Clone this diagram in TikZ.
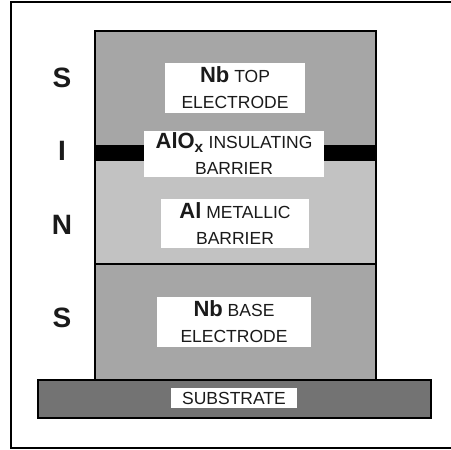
\documentclass[tikz,border=0pt]{standalone}
\usepackage{fontspec}
\setmainfont{Liberation Sans}
\usepackage{xcolor}
\usetikzlibrary{positioning}
\definecolor{nbgray}{HTML}{A6A6A6}
\definecolor{algray}{HTML}{C2C2C2}
\definecolor{subgray}{HTML}{737373}
\definecolor{txtgray}{HTML}{1A1A1A}
\tikzset{
  labelbox/.style={fill=white, inner sep=0pt, align=center, text=txtgray,
    font=\fontsize{17.5}{26}\selectfont},
  sidelabel/.style={text=txtgray, font=\fontsize{28}{28}\selectfont\bfseries},
}
\newcommand{\elem}[1]{{\fontsize{22}{26}\selectfont\bfseries #1}}
\begin{document}
\begin{tikzpicture}[x=1pt, y=-1pt]
\useasboundingbox (0,0) rectangle (451,450);
% outer frame (open to the right)
\draw[line width=2pt] (460,2) -- (11,2) -- (11,447.5) -- (460,447.5);

% layers of the stack
\fill[nbgray] (95,31) rectangle (376,145);
\fill[black] (95,145) rectangle (376,161);
\fill[algray] (95,161) rectangle (376,264);
\fill[nbgray] (95,264) rectangle (376,380);
\draw[line width=1.2pt] (95,380) -- (95,31) -- (376,31) -- (376,380);
\draw[line width=1.2pt] (95,264) -- (376,264);

% substrate
\fill[subgray] (38,380) rectangle (431,418);
\draw[line width=1.6pt] (38,380) rectangle (431,418);

% layer labels
\node[labelbox, minimum width=140pt, minimum height=50pt] (top) at (235,88)
  {\elem{Nb} TOP\\ELECTRODE};
\node[labelbox, minimum width=180pt, minimum height=46pt] (barrier) at (234,154)
  {\elem{AlO$_{\mathbf{x}}$} INSULATING\\BARRIER};
\node[labelbox, minimum width=148pt, minimum height=49pt] (metal) at (235,223.5)
  {\elem{Al} METALLIC\\BARRIER};
\node[labelbox, minimum width=154pt, minimum height=50pt] (base) at (234,322)
  {\elem{Nb} BASE\\ELECTRODE};
\node[labelbox, minimum width=126pt, minimum height=20pt] (substrate) at (234,398)
  {SUBSTRATE};

% S-I-N-S letters
\foreach \t/\y in {S/78,I/151,N/225,S/318} {
  \node[sidelabel] (side\y) at (62,\y) {\t};
}
\end{tikzpicture}
\end{document}
